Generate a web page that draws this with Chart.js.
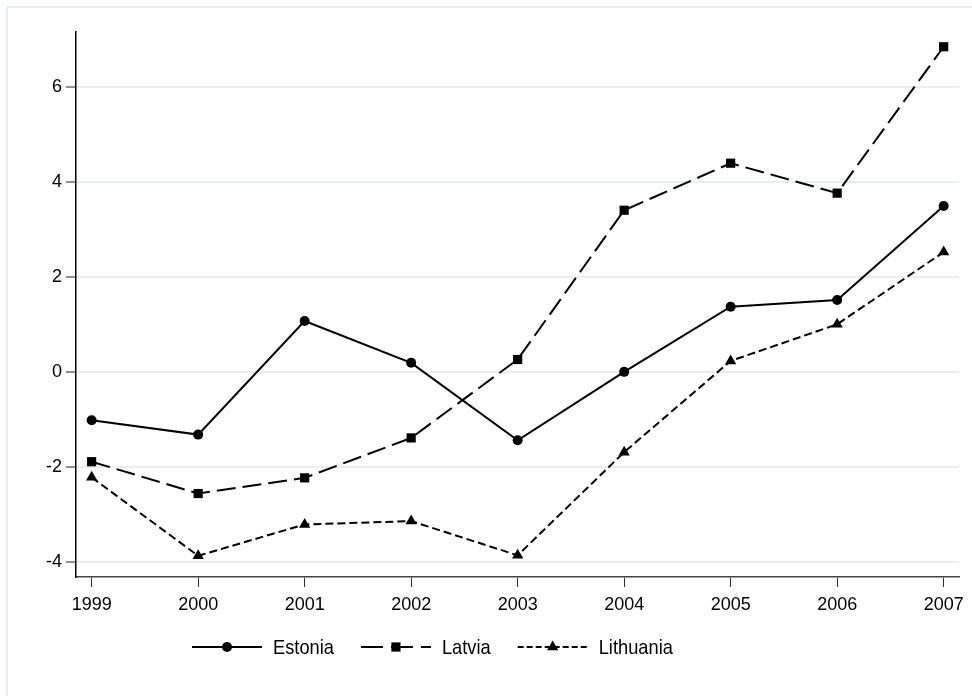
<!DOCTYPE html>
<html lang="en">
<head>
<meta charset="UTF-8">
<title>Estonia, Latvia, Lithuania 1999-2007</title>
<style>
    html, body {
        margin: 0;
        padding: 0;
        background: #ffffff;
    }
    #wrap {
        position: relative;
        width: 972px;
        height: 696px;
        overflow: hidden;
    }
    #frame {
        position: absolute;
        left: 6px;
        top: 6px;
        width: 1000px;
        height: 720px;
        border-left: 2px solid #e6eff1;
        border-top: 2px solid #e6eff1;
    }
    canvas {
        position: absolute;
        left: 0;
        top: 0;
    }
</style>
<script src="https://cdn.jsdelivr.net/npm/chart.js"></script>
</head>
<body>
<div id="wrap">
    <div id="frame"></div>
    <canvas id="chart" width="972" height="696"></canvas>
</div>
<script>
// Data
const years = [1999, 2000, 2001, 2002, 2003, 2004, 2005, 2006, 2007];
const estonia = [-1.02, -1.32, 1.07, 0.19, -1.44, 0.00, 1.37, 1.51, 3.49];
const latvia = [-1.89, -2.56, -2.23, -1.39, 0.26, 3.40, 4.39, 3.76, 6.84];
const lithuania = [-2.22, -3.87, -3.21, -3.14, -3.86, -1.69, 0.23, 1.00, 2.52];
const yTicks = [-4, -2, 0, 2, 4, 6];

const FONT = "'Liberation Sans', Arial, Helvetica, sans-serif";

function toPoints(values) {
    return years.map((y, i) => ({ x: y, y: values[i] }));
}

// Legend under the plot: line sample with the marker in the middle,
// label text a bit condensed like the original
const legendPlugin = {
    id: 'stataLegend',
    afterDraw(chart) {
        const ctx = chart.ctx;
        const y = 647;
        const squeeze = 0.87;
        let x = 192;
        ctx.save();
        ctx.font = '21px ' + FONT;
        ctx.textBaseline = 'middle';
        chart.data.datasets.forEach(ds => {
            ctx.strokeStyle = ds.borderColor;
            ctx.lineWidth = ds.borderWidth;
            ctx.setLineDash(ds.legendDash || ds.borderDash || []);
            ctx.beginPath();
            ctx.moveTo(x, y);
            ctx.lineTo(x + 70, y);
            ctx.stroke();
            ctx.setLineDash([]);
            drawMarker(ctx, ds.pointStyle, x + 35, y, ds.pointRadius);
            ctx.fillStyle = '#000';
            ctx.save();
            ctx.translate(x + 81, y + 1);
            ctx.scale(squeeze, 1);
            ctx.fillText(ds.label, 0, 0);
            ctx.restore();
            x += 81 + ctx.measureText(ds.label).width * squeeze + 27;
        });
        ctx.restore();
    }
};

function drawMarker(ctx, style, x, y, r) {
    ctx.fillStyle = '#000';
    ctx.beginPath();
    if (style === 'circle') {
        ctx.arc(x, y, r, 0, Math.PI * 2);
    } else if (style === 'rect') {
        const s = r / Math.SQRT2;
        ctx.rect(x - s, y - s, 2 * s, 2 * s);
    } else {
        ctx.moveTo(x, y - r);
        ctx.lineTo(x + r * 0.866, y + r * 0.5);
        ctx.lineTo(x - r * 0.866, y + r * 0.5);
        ctx.closePath();
    }
    ctx.fill();
}

const common = {
    borderColor: '#000',
    backgroundColor: '#000',
    pointBackgroundColor: '#000',
    pointBorderColor: '#000',
    pointBorderWidth: 0,
    borderWidth: 2,
    tension: 0,
    fill: false
};

new Chart(document.getElementById('chart'), {
    type: 'line',
    data: {
        datasets: [
            Object.assign({}, common, {
                label: 'Estonia',
                data: toPoints(estonia),
                pointStyle: 'circle',
                pointRadius: 5,
                borderDash: []
            }),
            Object.assign({}, common, {
                label: 'Latvia',
                data: toPoints(latvia),
                pointStyle: 'rect',
                pointRadius: 6.5,
                borderDash: [19, 7],
                legendDash: [22, 8]
            }),
            Object.assign({}, common, {
                label: 'Lithuania',
                data: toPoints(lithuania),
                pointStyle: 'triangle',
                pointRadius: 6.5,
                borderDash: [8, 4],
                legendDash: [6, 3]
            })
        ]
    },
    options: {
        responsive: false,
        animation: false,
        layout: {
            padding: { top: 32, right: 13, left: 0, bottom: 0 }
        },
        plugins: {
            legend: { display: false },
            tooltip: { enabled: false }
        },
        scales: {
            x: {
                type: 'linear',
                min: 1998.853,
                max: 2007.144,
                afterBuildTicks(scale) {
                    scale.ticks = years.map(v => ({ value: v }));
                },
                afterFit(scale) {
                    scale.height = 119;
                },
                grid: {
                    drawOnChartArea: false,
                    drawTicks: true,
                    tickLength: 10,
                    tickColor: '#333',
                    tickWidth: 1
                },
                border: { display: true, color: '#444', width: 1.5 },
                ticks: {
                    color: '#000',
                    padding: 7,
                    maxRotation: 0,
                    autoSkip: false,
                    font: { family: FONT, size: 18 },
                    callback: v => String(v)
                }
            },
            y: {
                min: -4.316,
                max: 7.15,
                afterBuildTicks(scale) {
                    scale.ticks = yTicks.map(v => ({ value: v }));
                },
                afterFit(scale) {
                    scale.width = 76;
                },
                grid: {
                    color: '#e6eff1',
                    lineWidth: 2,
                    drawTicks: true,
                    tickLength: 10,
                    tickColor: '#222',
                    tickWidth: 1
                },
                border: { display: true, color: '#000', width: 1.5 },
                ticks: {
                    color: '#000',
                    padding: 4,
                    autoSkip: false,
                    font: { family: FONT, size: 18 },
                    callback: v => String(v)
                }
            }
        }
    },
    plugins: [legendPlugin]
});
</script>
</body>
</html>
